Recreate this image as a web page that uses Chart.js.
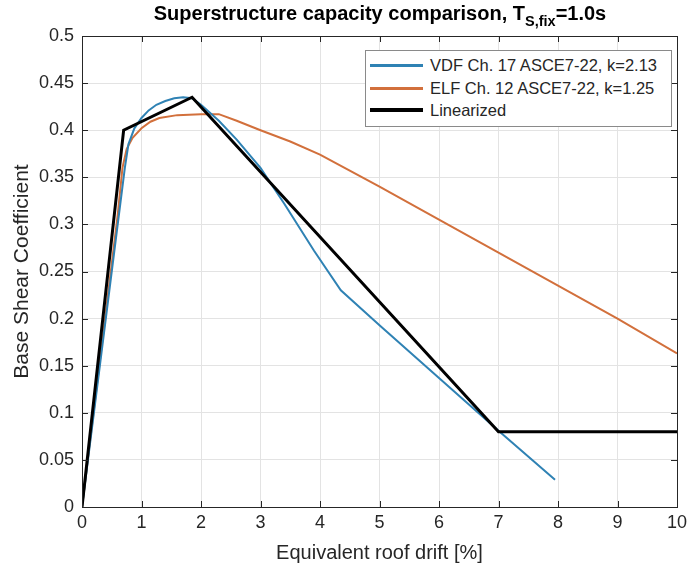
<!DOCTYPE html>
<html>
<head>
<meta charset="utf-8">
<script src="https://cdn.jsdelivr.net/npm/chart.js@4"></script>
<style>
  body { margin: 0; background: #fff; font-family: "Liberation Sans", Arial, sans-serif; }
  #wrap { position: relative; width: 687px; height: 569px; }
  #title {
    position: absolute; left: 60px; width: 640px; top: 1px;
    text-align: center; font-weight: bold; font-size: 20px; color: #000; line-height: 24px;
  }
  #title sub { font-size: 14.5px; vertical-align: -6px; line-height: 0; }
  #legend {
    position: absolute; left: 365px; top: 50px; width: 307px; height: 77px;
    border: 1px solid #8a8a8a; background: #fff; box-sizing: border-box;
    font-size: 16.5px; color: #262626;
  }
  .row { position: absolute; left: 4px; height: 20px; display: flex; align-items: center; }
  .sw { width: 53px; margin-right: 7px; }
</style>
</head>
<body>
<div id="wrap">
  <canvas id="chart" width="687" height="569"></canvas>
  <div id="title">Superstructure capacity comparison, T<sub>S,fix</sub>=1.0s</div>
  <div id="legend"></div>
</div>
<script>
// VDF Ch. 17 curve
const vdfDrift = [0, 0.72, 0.78, 0.88, 1.0, 1.12, 1.25, 1.4, 1.55, 1.7, 1.85, 2.0, 2.3, 2.6, 3.0, 3.4, 3.9, 4.35, 5.0, 6.0, 7.0, 7.95];
const vdfCs = [0, 0.36, 0.385, 0.402, 0.413, 0.421, 0.427, 0.431, 0.434, 0.435, 0.434, 0.427, 0.41, 0.39, 0.36, 0.322, 0.272, 0.23, 0.193, 0.137, 0.081, 0.029];

// ELF Ch. 12 curve
const elfDrift = [0, 0.6, 0.68, 0.75, 0.85, 1.0, 1.15, 1.3, 1.6, 2.0, 2.3, 2.6, 3.0, 3.5, 4.0, 4.5, 5.0, 6.0, 7.0, 8.0, 9.0, 10.0];
const elfCs = [0, 0.31, 0.36, 0.38, 0.392, 0.402, 0.409, 0.413, 0.416, 0.417, 0.417, 0.41, 0.4, 0.388, 0.374, 0.357, 0.34, 0.305, 0.27, 0.235, 0.2, 0.163];

// Linearized
const linDrift = [0, 0.7, 1.85, 7.0, 10.0];
const linCs = [0, 0.4, 0.435, 0.08, 0.08];

const seriesLabels = ["VDF Ch. 17 ASCE7-22, k=2.13", "ELF Ch. 12 ASCE7-22, k=1.25", "Linearized"];
const seriesColors = ["#2f82b4", "#d2703c", "#000000"];
const seriesWidths = [2, 2, 3];

const xTicks = [0, 1, 2, 3, 4, 5, 6, 7, 8, 9, 10];
const yTicks = [0, 0.05, 0.1, 0.15, 0.2, 0.25, 0.3, 0.35, 0.4, 0.45, 0.5];

function toPoints(xs, ys) {
  return xs.map((x, i) => ({ x: x, y: ys[i] }));
}

const allData = [toPoints(vdfDrift, vdfCs), toPoints(elfDrift, elfCs), toPoints(linDrift, linCs)];

// box around the axes, like matlab "box on"
const boxPlugin = {
  id: "box",
  afterDraw(chart) {
    const a = chart.chartArea;
    const c = chart.ctx;
    c.save();
    c.strokeStyle = "#262626";
    c.lineWidth = 1;
    c.strokeRect(a.left + 0.5, a.top + 0.5, a.right - a.left, a.bottom - a.top);
    // inward tick marks
    const xs = chart.scales.x, ys = chart.scales.y;
    c.beginPath();
    xTicks.forEach((t) => {
      const px = Math.round(xs.getPixelForValue(t)) + 0.5;
      c.moveTo(px, a.bottom); c.lineTo(px, a.bottom - 6);
      c.moveTo(px, a.top); c.lineTo(px, a.top + 6);
    });
    yTicks.forEach((t) => {
      const py = Math.round(ys.getPixelForValue(t)) + 0.5;
      c.moveTo(a.left, py); c.lineTo(a.left + 6, py);
      c.moveTo(a.right, py); c.lineTo(a.right - 6, py);
    });
    c.stroke();
    c.restore();
  },
};

const ctx = document.getElementById("chart").getContext("2d");
const chart = new Chart(ctx, {
  type: "line",
  data: {
    datasets: allData.map((d, i) => ({
      label: seriesLabels[i],
      data: d,
      borderColor: seriesColors[i],
      backgroundColor: seriesColors[i],
      borderWidth: seriesWidths[i],
      pointRadius: 0,
      tension: 0,
      fill: false,
      order: i === 2 ? 0 : 1,
    })),
  },
  options: {
    responsive: false,
    animation: false,
    layout: { padding: { top: 36, right: 10, left: 0, bottom: 0 } },
    plugins: {
      legend: { display: false },
      tooltip: { enabled: false },
    },
    scales: {
      x: {
        type: "linear",
        min: 0,
        max: 10,
        afterBuildTicks: (s) => { s.ticks = xTicks.map((v) => ({ value: v })); },
        grid: { color: "#e3e3e3", drawTicks: false },
        border: { display: false },
        ticks: { color: "#262626", font: { family: "Liberation Sans", size: 18 }, padding: 5 },
        title: {
          display: true,
          text: "Equivalent roof drift [%]",
          color: "#262626",
          font: { family: "Liberation Sans", size: 20 },
          padding: { top: 0 },
        },
        afterFit: (s) => {
          s.height = 62;
          s.paddingLeft = 0;
          s.paddingRight = 0;
        },
      },
      y: {
        type: "linear",
        min: 0,
        max: 0.5,
        afterBuildTicks: (s) => { s.ticks = yTicks.map((v) => ({ value: v })); },
        grid: { color: "#e3e3e3", drawTicks: false },
        border: { display: false },
        ticks: {
          color: "#262626",
          font: { family: "Liberation Sans", size: 18 },
          padding: 8,
          callback: (v) => String(Number(v.toFixed(2))),
        },
        title: {
          display: true,
          text: "Base Shear Coefficient",
          color: "#262626",
          font: { family: "Liberation Sans", size: 21 },
          padding: { top: 10 },
        },
        afterFit: (s) => { s.width = 82; },
      },
    },
  },
  plugins: [boxPlugin],
});

// legend box inside the axes
const legend = document.getElementById("legend");
const rowTops = [4, 27, 49];
seriesLabels.forEach((label, i) => {
  const row = document.createElement("div");
  row.className = "row";
  row.style.top = rowTops[i] + "px";
  const sw = document.createElement("span");
  sw.className = "sw";
  sw.style.borderTop = seriesWidths[i] + 1 + "px solid " + seriesColors[i];
  const txt = document.createElement("span");
  txt.textContent = label;
  row.appendChild(sw);
  row.appendChild(txt);
  legend.appendChild(row);
});
</script>
</body>
</html>
